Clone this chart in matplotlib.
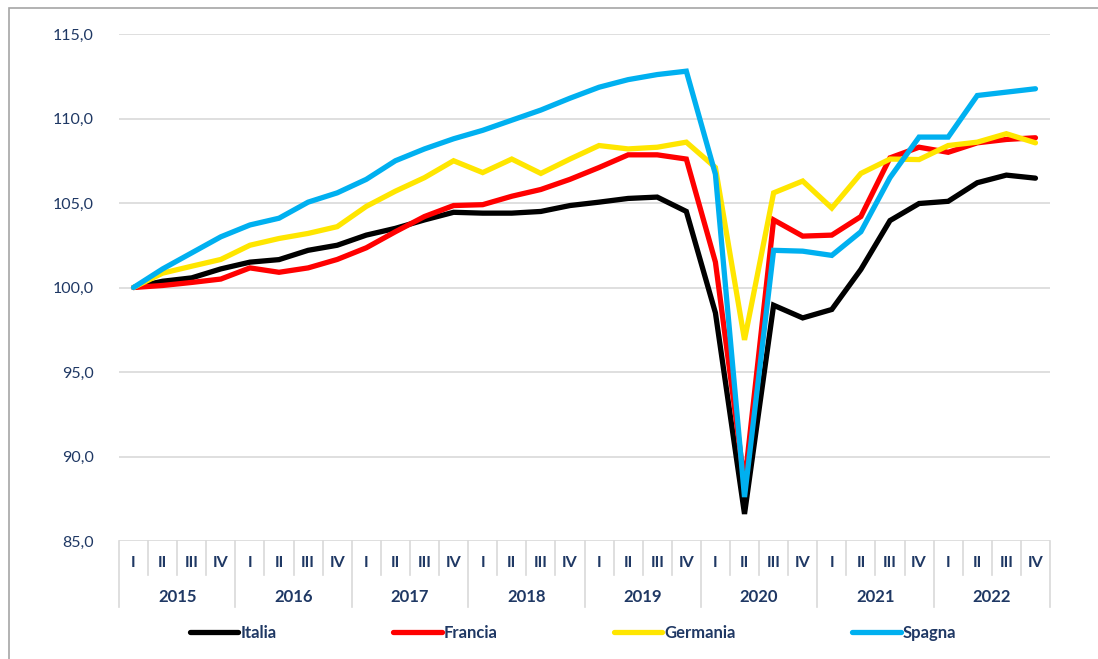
import numpy as np
import matplotlib.pyplot as plt
import matplotlib.transforms as mtransforms
from matplotlib.patches import Rectangle

plt.rcParams['font.family'] = ['Lato', 'DejaVu Sans']

# Data: index 2015 Q1 = 100, quarterly
years = ["2015", "2016", "2017", "2018", "2019", "2020", "2021", "2022"]
quarters = ["I", "II", "III", "IV"]

italia = [100.0, 100.37, 100.57, 101.1, 101.5, 101.65, 102.2, 102.5,
          103.1, 103.5, 104.0, 104.45, 104.4, 104.4, 104.5, 104.85,
          105.05, 105.27, 105.35, 104.5, 98.5, 86.6, 98.95, 98.2,
          98.7, 101.07, 103.96, 104.97, 105.1, 106.2, 106.65, 106.47]
francia = [100.0, 100.12, 100.3, 100.5, 101.16, 100.9, 101.16, 101.66,
           102.35, 103.3, 104.2, 104.85, 104.9, 105.4, 105.8, 106.4,
           107.1, 107.85, 107.85, 107.6, 101.5, 88.4, 104.0, 103.04,
           103.1, 104.2, 107.67, 108.3, 108.0, 108.56, 108.76, 108.86]
germania = [100.0, 100.85, 101.26, 101.66, 102.5, 102.9, 103.2, 103.6,
            104.8, 105.7, 106.5, 107.5, 106.8, 107.6, 106.75, 107.6,
            108.4, 108.2, 108.3, 108.6, 107.1, 96.9, 105.6, 106.3,
            104.7, 106.75, 107.6, 107.57, 108.4, 108.6, 109.1, 108.56]
spagna = [100.0, 101.1, 102.05, 103.0, 103.7, 104.1, 105.05, 105.6,
          106.4, 107.5, 108.2, 108.8, 109.3, 109.9, 110.5, 111.2,
          111.85, 112.3, 112.6, 112.8, 106.7, 87.6, 102.2, 102.15,
          101.9, 103.3, 106.5, 108.9, 108.9, 111.36, 111.56, 111.76]

series = [("Italia", italia, "#000000"),
          ("Francia", francia, "#FF0000"),
          ("Germania", germania, "#FFE600"),
          ("Spagna", spagna, "#00B0F0")]

navy = "#1F3864"
grid_c = "#D9D9D9"

fig = plt.figure(figsize=(10.98, 6.59), dpi=100)
ax = fig.add_axes([119 / 1098, 1 - 541 / 659, 931 / 1098, 507 / 659])

x = np.arange(len(italia))
for name, vals, col in series:
    ax.plot(x, vals, color=col, lw=3.8, label=name, solid_capstyle="round",
            solid_joinstyle="miter")

ax.set_xlim(-0.5, len(x) - 0.5)
ax.set_ylim(85, 115)
ax.set_yticks(np.arange(85, 116, 5))
ax.set_yticklabels([f"{v:.1f}".replace(".", ",") for v in np.arange(85, 116, 5)],
                   fontsize=11.5, color=navy)
ax.tick_params(axis="y", length=0, pad=18)
ax.set_xticks([])
for s in ax.spines.values():
    s.set_visible(False)
ax.grid(axis="y", color=grid_c, lw=1.2)
ax.set_axisbelow(True)

# category axis: quarters and years
trans = mtransforms.blended_transform_factory(ax.transData, ax.transAxes)
for i in range(len(x) + 1):
    depth = -0.130 if i % 4 == 0 else -0.067
    ax.plot([i - 0.5, i - 0.5], [0, depth], color=grid_c, lw=1.2,
            transform=trans, clip_on=False)
for i in range(len(x)):
    ax.text(i, -0.043, quarters[i % 4], transform=trans, ha="center", va="center",
            fontsize=11.5, fontweight="bold", color=navy)
for j, yr in enumerate(years):
    ax.text(4 * j + 1.5, -0.111, yr, transform=trans, ha="center", va="center",
            fontsize=12, fontweight="bold", color=navy)

leg = fig.legend(loc="center", bbox_to_anchor=(0.522, 1 - 633 / 659), ncol=4,
                 frameon=False, handlelength=2.9, handletextpad=0.12,
                 columnspacing=7.0, prop={"size": 12, "weight": "bold"})
for t in leg.get_texts():
    t.set_color(navy)

# outer frame
fig.patches.append(Rectangle((9 / 1098, -0.1), 1.2, 1 - 8 / 659 + 0.1,
                             transform=fig.transFigure, fill=False,
                             edgecolor="#A6A6A6", lw=1.2))

fig.savefig("out.png", dpi=100)
